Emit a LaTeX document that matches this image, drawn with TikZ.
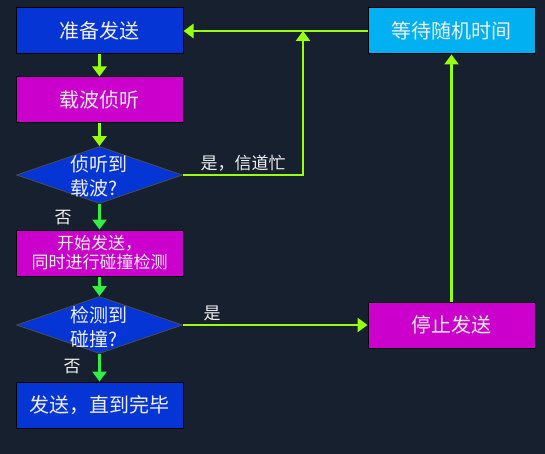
\documentclass[tikz,border=0pt]{standalone}
\usepackage{fontspec}
\setmainfont{Noto Sans CJK SC}
\usetikzlibrary{arrows.meta,shapes.geometric}
\definecolor{BgNavy}{HTML}{16202F}
\definecolor{BoxBlue}{HTML}{0535D5}
\definecolor{BoxMagenta}{HTML}{CC00CC}
\definecolor{BoxCyan}{HTML}{00B0F0}
\definecolor{LineLime}{HTML}{99FF11}
\definecolor{LineGreen}{HTML}{33EE44}

\begin{document}
\begin{tikzpicture}[x=1pt,y=-1pt,>={Triangle[length=10pt,width=14pt]},
  bx/.style={draw=black,line width=1pt,minimum width=167pt,minimum height=46pt,inner sep=0pt,text=white!94!black,font=\fontsize{20}{24}\selectfont},
  dm/.style={diamond,draw=black!70,line width=0.8pt,fill=BoxBlue,minimum width=166pt,minimum height=57pt,inner sep=0pt},
  dtxt/.style={align=left,inner sep=0pt,text=white!94!black,font=\fontsize{19}{24}\selectfont},
  lbl/.style={inner sep=0pt,text=white!94!black,font=\fontsize{17}{20}\selectfont},
  lime/.style={->,draw=LineLime,line width=2.6pt},
  grn/.style={->,draw=LineGreen,line width=2.6pt}]

% ===== background =====
\fill[BgNavy] (0,0) rectangle (545,454);
\useasboundingbox (0,0) rectangle (545,454);

% ===== left column =====
\node[bx,fill=BoxBlue] (prep) at (99.5,31){准备发送};
\node[bx,fill=BoxMagenta] (sense) at (99.5,100){载波侦听};
\node[dm] (chk1) at (99.5,175){};
\node[dtxt] (chk1t) at (99,176){侦听到\\载波?};
\node[bx,fill=BoxMagenta,font=\fontsize{17}{19}\selectfont,align=center] (send) at (99.5,253){开始发送，\\同时进行碰撞检测};
\node[dm] (chk2) at (99.5,325){};
\node[dtxt] (chk2t) at (99,327){检测到\\碰撞?};
\node[bx,fill=BoxBlue] (done) at (99.5,405){发送，直到完毕};

% ===== right column =====
\node[bx,fill=BoxCyan] (wait) at (451.5,31){等待随机时间};
\node[bx,fill=BoxMagenta] (stop) at (451.5,325){停止发送};
\coordinate (jn) at (303,31);

% ===== labels =====
\node[lbl] (busy) at (243,163){是，信道忙};
\node[lbl] (no1) at (63,218){否};
\node[lbl] (yes2) at (212,313){是};
\node[lbl] (no2) at (72,367){否};

% ===== connectors =====
\draw[lime] (prep)--(sense);
\draw[lime] (sense)--(chk1);
\draw[grn] (chk1)--(send);
\draw[grn] (send)--(chk2);
\draw[grn] (chk2)--(done);
\draw[lime] (chk1.east) -| (jn);
\draw[lime] (wait)--(prep);
\draw[lime] (chk2.east)--(stop.west);
\draw[lime] (stop)--(wait);
\end{tikzpicture}
\end{document}
